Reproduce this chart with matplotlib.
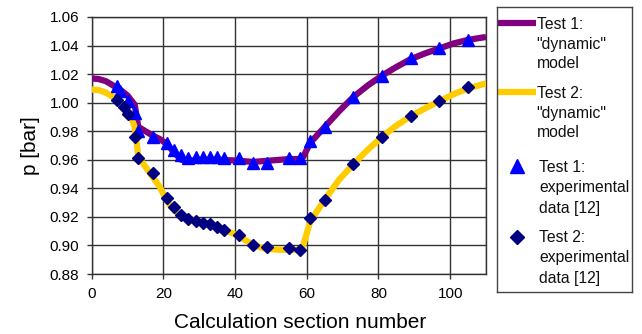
import matplotlib
matplotlib.use("Agg")
import matplotlib.pyplot as plt
from matplotlib.lines import Line2D

plt.rcParams['font.family'] = ['Liberation Sans', 'DejaVu Sans']

# ---- data ----
m1_x = [0, 2, 4, 6, 8, 10, 12, 13, 15, 17, 19, 21, 23, 25, 27, 30, 35, 40, 45, 50, 55, 58, 59,
        61, 65, 69, 73, 77, 81, 85, 89, 93, 97, 101, 105, 110]
m1_y = [1.017, 1.0165, 1.0150, 1.0120, 1.0090, 1.0050, 0.9985, 0.9830, 0.9800, 0.9770, 0.9745,
        0.9710, 0.9650, 0.9600, 0.9595, 0.9595, 0.9600, 0.9595, 0.9585, 0.9595, 0.9605, 0.9605,
        0.9620, 0.9720, 0.9830, 0.9940, 1.0040, 1.0120, 1.0190, 1.0250, 1.0305, 1.0345, 1.0380,
        1.0415, 1.0440, 1.0460]

m2_x = [0, 2, 4, 6, 8, 10, 11, 12, 12.5, 13, 15, 17, 19, 21, 23, 25, 27, 30, 33, 35, 37, 41, 45,
        48, 52, 56, 58, 59, 61, 65, 69, 73, 77, 81, 85, 89, 93, 97, 101, 105, 110]
m2_y = [1.0092, 1.0088, 1.0070, 1.0040, 1.0000, 0.9940, 0.9895, 0.9830, 0.9730, 0.9620, 0.9550,
        0.9480, 0.9410, 0.9310, 0.9245, 0.9205, 0.9185, 0.9165, 0.9150, 0.9130, 0.9110, 0.9065,
        0.9005, 0.8980, 0.8970, 0.8970, 0.8970, 0.9000, 0.9170, 0.9320, 0.9460, 0.9570, 0.9670,
        0.9760, 0.9840, 0.9905, 0.9960, 1.0010, 1.0060, 1.0100, 1.0135]

t1_x = [7, 8, 10, 12, 13, 17, 21, 23, 25, 27, 29, 31, 33, 35, 37, 41, 45, 49, 55, 58, 61, 65,
        73, 81, 89, 97, 105]
t1_y = [1.012, 1.008, 1.001, 0.993, 0.980, 0.976, 0.972, 0.967, 0.963, 0.961, 0.962, 0.962,
        0.962, 0.962, 0.961, 0.961, 0.9575, 0.9575, 0.961, 0.961, 0.973, 0.983, 1.004, 1.019,
        1.031, 1.038, 1.044]

d2_x = [7, 9, 10, 12, 13, 17, 21, 23, 25, 27, 29, 31, 33, 35, 37, 41, 45, 49, 55, 58, 61, 65,
        73, 81, 89, 97, 105]
d2_y = [1.002, 0.997, 0.992, 0.976, 0.961, 0.951, 0.933, 0.927, 0.921, 0.9185, 0.917, 0.916,
        0.915, 0.913, 0.911, 0.907, 0.900, 0.899, 0.898, 0.897, 0.919, 0.932, 0.957, 0.976,
        0.991, 1.001, 1.011]

x_ticks = [0, 20, 40, 60, 80, 100]
y_ticks = [0.88, 0.90, 0.92, 0.94, 0.96, 0.98, 1.00, 1.02, 1.04, 1.06]

legend_labels = [
    ['Test 1:', '"dynamic"', 'model'],
    ['Test 2:', '"dynamic"', 'model'],
    ['Test 1:', 'experimental', 'data [12]'],
    ['Test 2:', 'experimental', 'data [12]'],
]

PURPLE = '#800080'
YELLOW = '#FFCC00'
BLUE = '#0000FF'
NAVY = '#000080'
GRID = '#333333'

W, H = 642, 334
fig = plt.figure(figsize=(W / 100, H / 100), dpi=100)
ax = fig.add_axes([91.7 / W, (H - 274) / H, (486 - 91.7) / W, (274 - 17) / H])

ax.plot(m1_x, m1_y, color=PURPLE, lw=4.5, solid_capstyle='butt', zorder=3)
ax.plot(m2_x, m2_y, color=YELLOW, lw=4.5, solid_capstyle='butt', zorder=3)
ax.plot(t1_x, t1_y, ls='none', marker='^', ms=9.3, color=BLUE, mec=BLUE, zorder=4)
ax.plot(d2_x, d2_y, ls='none', marker='D', ms=6.6, color=NAVY, mec=NAVY, zorder=5)

ax.set_xlim(0, 110)
ax.set_ylim(0.88, 1.06)
ax.set_xticks(x_ticks)
ax.set_yticks(y_ticks)
ax.set_yticklabels([f'{v:.2f}' for v in y_ticks])
ax.grid(True, color=GRID, lw=1.0)
ax.axvline(110, color=GRID, lw=1.0)
ax.set_axisbelow(True)
for s in ax.spines.values():
    s.set_color(GRID)
    s.set_linewidth(1.0)
ax.tick_params(direction='out', length=3.6, width=1.0, color=GRID, labelsize=11, pad=5.5)

ax.set_xlabel('Calculation section number', fontsize=15)
ax.xaxis.set_label_coords((300.5 - 91.7) / (486 - 91.7), -(328.3 - 274) / (274 - 17))
ax.xaxis.label.set_va('baseline')
ax.set_ylabel('p [bar]', fontsize=15)
ax.yaxis.set_label_coords(-(91.7 - 31) / (486 - 91.7), 0.5)
ax.yaxis.label.set_va('center')

# ---- legend (manual, in pixel coordinates of its box) ----
lx0, ly0, lx1, ly1 = 497, 7, 632, 292
lax = fig.add_axes([lx0 / W, (H - ly1) / H, (lx1 - lx0) / W, (ly1 - ly0) / H])
lax.set_xlim(0, lx1 - lx0)
lax.set_ylim(ly1 - ly0, 0)
lax.set_xticks([])
lax.set_yticks([])
for s in lax.spines.values():
    s.set_color('#444444')
    s.set_linewidth(1.0)

lax.add_line(Line2D([0, 38.7], [16.3, 16.3], color=PURPLE, lw=4.5, solid_capstyle='butt'))
lax.add_line(Line2D([0, 38.7], [85.3, 85.3], color=YELLOW, lw=4.5, solid_capstyle='butt'))
lax.add_line(Line2D([20], [159], ls='none', marker='^', ms=10, color=BLUE))
lax.add_line(Line2D([20], [229.7], ls='none', marker='D', ms=7.2, color=NAVY))

entries = [(39.7, 22.3, 19.5), (39.7, 91.3, 19.5), (42, 164.7, 20.4), (42, 234.7, 20.4)]
for (tx, ty, dy), lines in zip(entries, legend_labels):
    for i, t in enumerate(lines):
        lax.text(tx, ty + i * dy, t, fontsize=11.3, va='baseline', ha='left', color='#111111')

fig.savefig('out.png', dpi=100)
